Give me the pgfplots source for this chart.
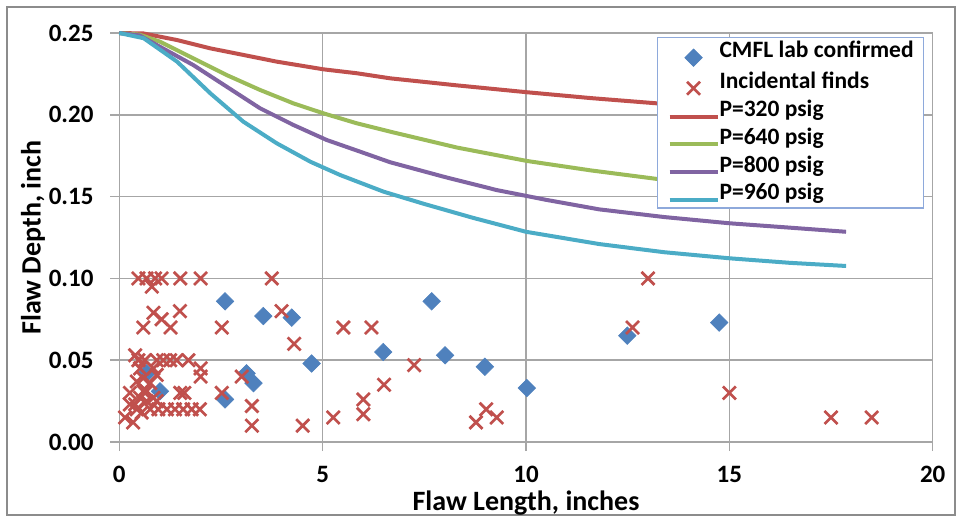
\documentclass[border=0pt]{standalone}
\usepackage{pgfplots}
\pgfplotsset{compat=1.18}
\usepackage{fontspec}
\setmainfont{Carlito}
\definecolor{cblue}{HTML}{4F81BD}
\definecolor{cred}{HTML}{C0504D}
\definecolor{cgreen}{HTML}{9BBB59}
\definecolor{cpurple}{HTML}{8064A2}
\definecolor{ccyan}{HTML}{4BACC6}
\definecolor{gridgray}{HTML}{A6A6A6}
\definecolor{legborder}{HTML}{8EA9DB}
\pgfplotsset{
  lineleg/.style={legend image code/.code={\draw[##1] (0pt,0pt) -- (24pt,0pt);}},
  markleg/.style={legend image code/.code={\draw[mark repeat=2,mark phase=2,##1] plot coordinates {(0pt,0pt) (12pt,0pt) (24pt,0pt)};}},
}
\begin{document}
\begin{tikzpicture}
\path[use as bounding box] (0,0) rectangle (478pt,258pt);
\draw[color=black!45, line width=1pt] (3.5pt,0.5pt) rectangle (477.5pt,254.5pt);
\begin{axis}[
  at={(59.65pt,37pt)}, anchor=south west,
  scale only axis, width=406.7pt, height=204.5pt,
  xmin=0, xmax=20, ymin=0, ymax=0.25,
  xtick={0,5,10,15,20}, ytick={0,0.05,0.1,0.15,0.2,0.25},
  grid=major, grid style={color=gridgray, line width=0.75pt},
  axis line style={color=gridgray, line width=0.75pt},
  tick style={color=gridgray, line width=0.75pt},
  tick align=outside, major tick length=4.5pt,
  xtick pos=bottom, ytick pos=left,
  clip=false,
  /pgf/number format/assume math mode=true,
  tick label style={font=\fontsize{12.5}{14}\selectfont\bfseries, inner sep=0pt},
  yticklabel style={/pgf/number format/fixed, /pgf/number format/fixed zerofill, /pgf/number format/precision=2},
  yticklabel shift=8.2pt,
  xticklabel shift=7.3pt,
  xlabel={Flaw Length, inches}, ylabel={Flaw Depth, inch},
  label style={font=\fontsize{14}{16}\selectfont\bfseries, inner sep=0pt},
  xlabel style={at={(axis description cs:0.5,-0.1500)}, anchor=center},
  ylabel style={at={(axis description cs:-0.1061,0.5)}, anchor=center},
  legend style={at={(axis description cs:0.661,0.990)}, anchor=north west,
    draw=legborder, line width=0.6pt, fill=white,
    inner xsep=5pt, inner ysep=1pt, row sep=1.9pt,
    font=\fontsize{11.75}{13}\selectfont\bfseries,
    nodes={inner xsep=0pt, inner ysep=0pt, text height=9pt, text depth=3pt, anchor=base west}},
  legend cell align=left,
]
\addplot[only marks, mark=square*, mark size=3.1pt, color=cblue, mark options={rotate=45, fill=cblue, draw=cblue, line width=0.3pt}, markleg]
  table {
x y
0.67 0.042
1.00 0.031
2.60 0.086
2.60 0.026
3.13 0.042
3.30 0.036
3.54 0.077
4.24 0.076
4.73 0.048
6.49 0.055
7.68 0.086
8.01 0.053
8.99 0.046
10.02 0.033
12.49 0.065
14.75 0.073
};
\addlegendentry{CMFL lab confirmed}
\addplot[only marks, mark=x, mark size=4.6pt, color=cred, mark options={line width=1.35pt}, markleg]
  table {
x y
0.47 0.100
0.67 0.100
0.88 0.100
1.04 0.100
1.50 0.100
2.00 0.100
3.75 0.100
13.00 0.100
0.80 0.095
0.84 0.079
1.49 0.080
1.04 0.075
0.59 0.070
1.26 0.070
2.52 0.070
3.99 0.080
4.30 0.060
5.51 0.070
6.20 0.070
12.62 0.070
0.39 0.053
0.47 0.050
0.63 0.050
0.92 0.050
1.08 0.050
1.25 0.050
1.41 0.050
1.70 0.050
2.00 0.045
2.00 0.040
3.01 0.040
7.25 0.047
0.51 0.045
0.84 0.045
0.92 0.041
1.50 0.030
1.60 0.030
2.52 0.030
15.00 0.030
0.96 0.020
1.17 0.020
1.37 0.020
1.57 0.020
1.78 0.020
1.98 0.020
0.14 0.015
0.34 0.012
0.43 0.020
0.26 0.023
0.51 0.027
0.59 0.031
0.67 0.025
0.76 0.020
0.43 0.037
0.59 0.039
0.76 0.036
0.84 0.027
0.92 0.025
0.67 0.031
0.26 0.030
0.39 0.023
0.55 0.018
3.26 0.022
3.26 0.010
4.51 0.010
5.26 0.015
6.00 0.026
6.00 0.017
6.51 0.035
8.77 0.012
9.02 0.020
9.28 0.015
17.50 0.015
18.50 0.015
};
\addlegendentry{Incidental finds}
\addplot[color=cred, line width=2pt, no marks, lineleg]
  table {
x y
0 0.250
0.6 0.2497
1.42 0.2457
2.24 0.2406
3.05 0.2366
3.87 0.2325
5.02 0.2278
5.84 0.2254
6.66 0.2223
8.3 0.2180
10.02 0.2138
11.6 0.2102
13.22 0.2070
15.0 0.2040
17.87 0.2000
};
\addlegendentry{P=320 psig}
\addplot[color=cgreen, line width=2pt, no marks, lineleg]
  table {
x y
0 0.250
0.5 0.2490
1.0 0.2447
1.82 0.2345
2.64 0.2243
3.46 0.2152
4.28 0.2070
5.02 0.2009
5.84 0.1948
6.66 0.1897
8.3 0.1800
10.02 0.1718
11.6 0.1660
13.22 0.1608
15.0 0.1550
17.87 0.1470
};
\addlegendentry{P=640 psig}
\addplot[color=cpurple, line width=2pt, no marks, lineleg]
  table {
x y
0 0.250
0.5 0.2485
1.0 0.2416
1.82 0.2304
2.64 0.2172
3.46 0.2040
4.28 0.1938
5.10 0.1846
5.93 0.1774
6.66 0.1710
8.0 0.1620
9.28 0.1540
10.5 0.1480
11.8 0.1422
13.4 0.1375
15.0 0.1337
16.5 0.1310
17.87 0.1285
};
\addlegendentry{P=800 psig}
\addplot[color=ccyan, line width=2pt, no marks, lineleg]
  table {
x y
0 0.250
0.6 0.2468
1.42 0.2325
2.24 0.2131
3.05 0.1958
3.87 0.1826
4.70 0.1713
5.43 0.1632
6.5 0.1530
7.5 0.1455
8.7 0.1370
10.0 0.1285
11.8 0.1210
13.4 0.1160
15.0 0.1123
16.5 0.1095
17.87 0.1076
};
\addlegendentry{P=960 psig}
\end{axis}
\end{tikzpicture}
\end{document}
